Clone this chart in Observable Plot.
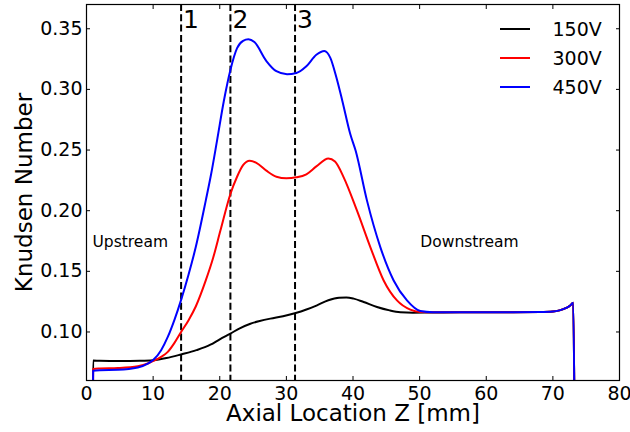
<!DOCTYPE html>
<html><head><meta charset="utf-8">
<script src="https://cdn.jsdelivr.net/npm/d3@7"></script>
<script src="https://cdn.jsdelivr.net/npm/@observablehq/plot@0.6"></script>
<style>body{margin:0;background:#fff} svg{font-family:"DejaVu Sans";}</style>
</head><body><div id="chart"></div>
<script>
const seriesNames = ["150V", "300V", "450V"];
const seriesColors = ["#000000", "#ff0000", "#0000ff"];

const z150 = [0.95, 1.0, 2, 5, 8, 10, 12, 14.2, 16.5, 18.6, 20, 21.6, 23, 24.6, 26, 27.6, 29.5, 31.4, 33, 34.6, 36.3, 37.9, 39, 40.1, 41.6, 43.6, 45.5, 47.1, 49, 52, 56, 60, 64, 68, 70, 71, 72, 72.6, 73.05, 73.25];
const kn150 = [0.03, 0.0765, 0.0762, 0.076, 0.0762, 0.0767, 0.0785, 0.0815, 0.085, 0.0895, 0.094, 0.0987, 0.103, 0.1068, 0.109, 0.111, 0.113, 0.1156, 0.1185, 0.122, 0.1262, 0.1283, 0.1285, 0.1275, 0.1247, 0.1206, 0.1178, 0.1163, 0.1159, 0.1161, 0.1162, 0.1162, 0.1162, 0.1164, 0.1168, 0.1178, 0.1198, 0.1218, 0.1242, 0.03];

const z300 = [0.95, 1.0, 2, 4.7, 7.7, 9.2, 10, 11.2, 12.2, 13.2, 14.2, 15.3, 16.4, 17.9, 19, 20.1, 21.6, 22.6, 23.5, 24.5, 25.5, 27, 28.5, 30, 31.5, 33, 34.5, 36.3, 37.3, 38.6, 40.6, 42.6, 44.6, 46.6, 48.6, 50.1, 52, 56, 60, 64, 68, 70, 71, 72, 72.6, 73.05, 73.25];
const kn300 = [0.03, 0.0695, 0.0699, 0.0703, 0.0718, 0.074, 0.076, 0.0795, 0.0836, 0.091, 0.100, 0.1095, 0.121, 0.1425, 0.161, 0.1836, 0.2138, 0.228, 0.2375, 0.2412, 0.2395, 0.233, 0.228, 0.2267, 0.2275, 0.230, 0.2365, 0.2431, 0.2405, 0.2275, 0.200, 0.170, 0.1425, 0.126, 0.1184, 0.1165, 0.1162, 0.1162, 0.1162, 0.1162, 0.1164, 0.1168, 0.1178, 0.1198, 0.1218, 0.1242, 0.03];

const z450 = [0.95, 1.0, 2, 4.7, 7.7, 9.2, 10, 11.2, 12.2, 13.2, 14.2, 15.3, 16.4, 17.9, 18.7, 19.6, 20.6, 21.6, 22.6, 23.5, 24.3, 25.2, 27, 28.5, 30.1, 31.5, 33, 34.5, 35.7, 36.6, 37.5, 38.4, 39.6, 40.4, 42.1, 44.1, 46.1, 48.1, 50.1, 52, 56, 60, 64, 68, 70, 71, 72, 72.6, 73.05, 73.25];
const kn450 = [0.03, 0.068, 0.0685, 0.0688, 0.0707, 0.074, 0.0768, 0.085, 0.0959, 0.110, 0.1265, 0.147, 0.170, 0.2083, 0.230, 0.258, 0.290, 0.316, 0.334, 0.340, 0.3413, 0.339, 0.3234, 0.315, 0.3125, 0.3135, 0.319, 0.3285, 0.3317, 0.326, 0.310, 0.2905, 0.263, 0.2494, 0.2083, 0.170, 0.1425, 0.126, 0.1173, 0.1163, 0.1162, 0.1162, 0.1162, 0.1164, 0.1168, 0.1178, 0.1198, 0.1218, 0.1242, 0.03];

const xTicks = [0, 10, 20, 30, 40, 50, 60, 70, 80];
const yTicks = [0.10, 0.15, 0.20, 0.25, 0.30, 0.35];
const markerZ = [14.2, 21.6, 31.3];
const markerLabels = ["1", "2", "3"];
const regionLabels = ["Upstream", "Downstream"];
const regionZ = [0.9, 50.1];
const regionKn = [0.174, 0.174];

const zs = [z150, z300, z450];
const kns = [kn150, kn300, kn450];
const rows = [];
seriesNames.forEach((s, i) => zs[i].forEach((z, j) => rows.push({series: s, z, kn: kns[i][j]})));
const regions = regionLabels.map((t, i) => ({t, z: regionZ[i], kn: regionKn[i]}));

const FONT = "DejaVu Sans";
const plot = Plot.plot({
  width: 630, height: 432,
  marginLeft: 86, marginRight: 11, marginTop: 4, marginBottom: 52,
  style: {fontFamily: FONT, background: "white", color: "black"},
  x: {domain: [0, 80]},
  y: {domain: [0.06, 0.37]},
  color: {domain: seriesNames, range: seriesColors},
  marks: [
    Plot.ruleX(markerZ, {x: d => d, stroke: "black", strokeWidth: 2, strokeDasharray: "7,3.3"}),
    Plot.line(rows, {x: "z", y: "kn", z: "series", stroke: "series", strokeWidth: 2, curve: "monotone-x", clip: true}),
    Plot.frame({stroke: "black", strokeWidth: 1.2}),
    Plot.axisX({anchor: "bottom", ticks: xTicks, tickSize: 4, dy: -4, tickPadding: 6, fontSize: 19, label: null, tickFormat: d3.format("d")}),
    Plot.axisX({anchor: "top", ticks: xTicks, tickSize: 4, dy: 4, tickFormat: () => "", label: null}),
    Plot.axisY({anchor: "left", ticks: yTicks, tickSize: 4, dx: 4, tickPadding: 4, fontSize: 19, label: null, tickFormat: d3.format(".2f")}),
    Plot.axisY({anchor: "right", ticks: yTicks, tickSize: 4, dx: -4, tickFormat: () => "", label: null}),
    Plot.text(["Axial Location Z [mm]"], {text: d => d, frameAnchor: "bottom", dy: 33, fontSize: 23, textAnchor: "middle", lineAnchor: "middle"}),
    Plot.text(["Knudsen Number"], {text: d => d, frameAnchor: "left", dx: -62, rotate: -90, fontSize: 23, textAnchor: "middle", lineAnchor: "middle"}),
    Plot.text(markerZ, {x: d => d, text: (d, i) => markerLabels[i], frameAnchor: "top", dx: 2, dy: 6, textAnchor: "start", lineAnchor: "top", fontSize: 25}),
    Plot.text(regions, {x: "z", y: "kn", text: "t", textAnchor: "start", lineAnchor: "middle", fontSize: 15.5}),
    ...seriesNames.map((s, i) => Plot.text([s], {text: d => d, frameAnchor: "top-right", dx: -67, dy: 25 + 29 * i, textAnchor: "start", lineAnchor: "middle", fontSize: 19}))
  ]
});

// legend line swatches
const svg = d3.select(plot);
seriesNames.forEach((s, i) => {
  svg.append("line")
    .attr("x1", 630 - 11 - 119).attr("x2", 630 - 11 - 89)
    .attr("y1", 4 + 25 + 29 * i).attr("y2", 4 + 25 + 29 * i)
    .attr("stroke", seriesColors[i]).attr("stroke-width", 2);
});
document.getElementById("chart").appendChild(plot);
</script>
</body></html>
